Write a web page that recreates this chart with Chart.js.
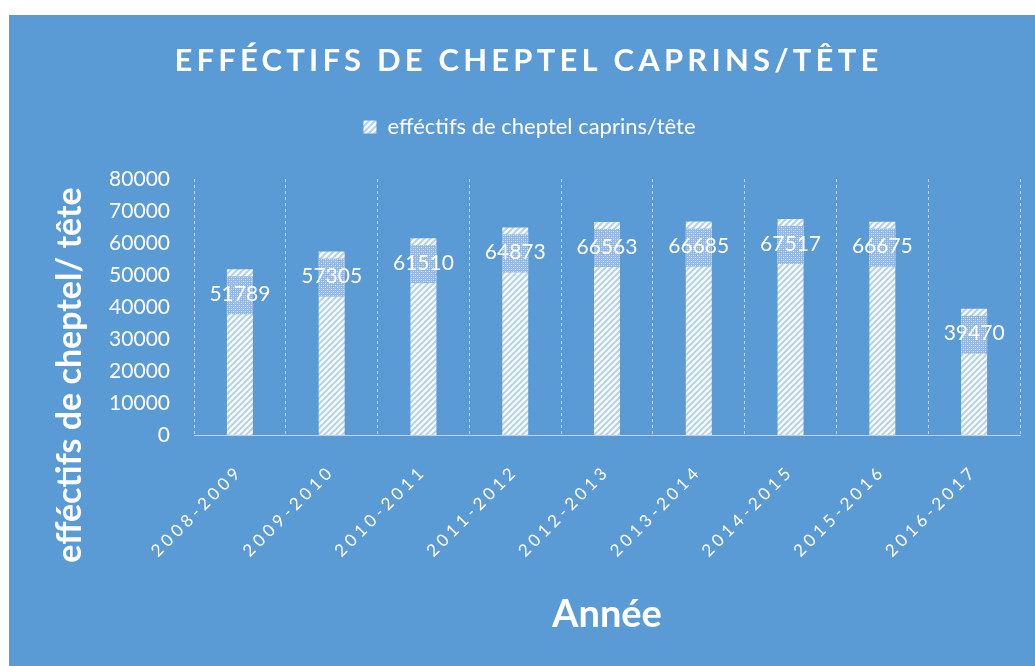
<!DOCTYPE html>
<html>
<head>
<meta charset="utf-8">
<title>Effectifs de cheptel caprins</title>
<script src="https://cdn.jsdelivr.net/npm/chart.js@4"></script>
<style>
    html, body { margin: 0; padding: 0; background: #fff; }
    #wrap { position: absolute; left: 9px; top: 15px; width: 1026px; height: 651px; background: #5b9bd5; }
</style>
</head>
<body>
<div id="wrap"><canvas id="caprins" width="1026" height="651"></canvas></div>
<script>
// --- Data ---
const years = ['2008-2009', '2009-2010', '2010-2011', '2011-2012', '2012-2013',
               '2013-2014', '2014-2015', '2015-2016', '2016-2017'];
const heads = [51789, 57305, 61510, 64873, 66563, 66685, 67517, 66675, 39470];
const yMin = 0, yMax = 80000, yStep = 10000;

const chartTitle = 'EFFÉCTIFS DE CHEPTEL CAPRINS/TÊTE';
const seriesName = 'efféctifs de cheptel caprins/tête';
const yTitle = 'efféctifs de cheptel/ tête';
const xTitle = 'Année';

const FONT = 'Lato';

// --- Fill patterns ---
function stripePattern() {
    const c = document.createElement('canvas');
    c.width = c.height = 6;
    const g = c.getContext('2d');
    g.fillStyle = '#b3cfee';
    g.fillRect(0, 0, 6, 6);
    g.strokeStyle = '#f7fafd';
    g.lineWidth = 2.3;
    g.beginPath();
    g.moveTo(-1, 7); g.lineTo(7, -1);
    g.moveTo(-4, 4); g.lineTo(4, -4);
    g.moveTo(2, 10); g.lineTo(10, 2);
    g.stroke();
    return g.createPattern(c, 'repeat');
}

function dotPattern() {
    const c = document.createElement('canvas');
    c.width = c.height = 4;
    const g = c.getContext('2d');
    g.fillStyle = '#94b8e2';
    g.fillRect(0, 0, 4, 4);
    g.fillStyle = 'rgba(235,243,251,0.8)';
    g.fillRect(0, 0, 1, 1);
    g.fillRect(2, 2, 1, 1);
    g.fillStyle = 'rgba(200,220,242,0.6)';
    g.fillRect(2, 0, 1, 1);
    g.fillRect(0, 2, 1, 1);
    return g.createPattern(c, 'repeat');
}

const stripes = stripePattern();
const dots = dotPattern();

// --- Plugins ---
// legend block gets a fixed height so the plot starts where the original does
const legendGap = {
    id: 'legendGap',
    beforeLayout(chart) {
        const l = chart.legend;
        if (l && !l._fixed) {
            const origFit = l.fit;
            l.fit = function () {
                origFit.call(this);
                this.height = 103;
            };
            const origDraw = l.draw;
            l.draw = function () {
                this.ctx.save();
                this.ctx.translate(7, 0);
                origDraw.call(this);
                this.ctx.restore();
            };
            l._fixed = true;
        }
    }
};

// letter spacing for the title and the x labels (canvas letterSpacing)
const spacing = {
    id: 'spacing',
    afterLayout(chart) {
        const x = chart.scales.x;
        if (x && !x._spaced) {
            const orig = x.drawLabels;
            x.drawLabels = function (area) {
                this.ctx.save();
                this.ctx.letterSpacing = '4px';
                orig.call(this, area);
                this.ctx.restore();
            };
            x._spaced = true;
        }
        const t = chart.titleBlock;
        if (t && !t._spaced) {
            const origT = t.draw;
            t.draw = function () {
                this.ctx.save();
                this.ctx.letterSpacing = '4.2px';
                this.ctx.translate(6, 0);
                origT.call(this);
                this.ctx.restore();
            };
            t._spaced = true;
        }
    }
};

// value labels inside the bars
const barLabels = {
    id: 'barLabels',
    afterDatasetsDraw(chart) {
        const ctx = chart.ctx;
        const meta = chart.getDatasetMeta(0);
        ctx.save();
        meta.data.forEach((bar, i) => {
            const w = bar.width;
            ctx.fillStyle = dots;
            ctx.fillRect(bar.x - w / 2, bar.y + 7, w, 38);
            ctx.fillStyle = '#fff';
            ctx.font = '21px ' + FONT;
            ctx.textAlign = 'center';
            ctx.textBaseline = 'middle';
            ctx.fillText(String(heads[i]), bar.x, bar.y + 25);
        });
        ctx.restore();
    }
};

// y axis title, sitting lower than the plot centre like the original
const yAxisTitle = {
    id: 'yAxisTitle',
    afterDraw(chart) {
        const ctx = chart.ctx;
        ctx.save();
        ctx.translate(61, 360);
        ctx.rotate(-Math.PI / 2);
        ctx.font = 'bold 34px ' + FONT;
        ctx.fillStyle = '#fff';
        ctx.textAlign = 'center';
        ctx.textBaseline = 'middle';
        ctx.fillText(yTitle, 0, 0);
        ctx.restore();
    }
};

// --- Chart ---
new Chart(document.getElementById('caprins'), {
    type: 'bar',
    data: {
        labels: years,
        datasets: [{
            label: seriesName,
            data: heads,
            backgroundColor: stripes,
            borderWidth: 0,
            categoryPercentage: 1,
            barPercentage: 0.283
        }]
    },
    options: {
        responsive: false,
        animation: false,
        layout: { padding: { left: 16, right: 15, top: 0, bottom: 0 } },
        plugins: {
            title: {
                display: true,
                text: chartTitle,
                color: '#fff',
                font: { family: FONT, size: 31, weight: 'bold', lineHeight: 1 },
                padding: { top: 30, bottom: 0 }
            },
            legend: {
                position: 'top',
                labels: {
                    color: '#fff',
                    font: { family: FONT, size: 22 },
                    boxWidth: 13,
                    boxHeight: 13,
                    padding: 40
                }
            },
            tooltip: { enabled: false }
        },
        scales: {
            x: {
                grid: { offset: true, color: 'rgba(222,233,246,0.75)', lineWidth: 1, drawTicks: false },
                border: { color: '#bcd3ed', width: 1, dash: [3, 3] },
                ticks: {
                    color: '#fff',
                    font: { family: FONT, size: 17 },
                    minRotation: 45,
                    maxRotation: 45,
                    autoSkip: false,
                    padding: 26
                },
                title: {
                    display: true,
                    text: xTitle,
                    color: '#fff',
                    font: { family: FONT, size: 38, weight: 'bold' },
                    padding: { top: 0, bottom: 28 }
                },
                afterFit(s) { s.height = 231; }
            },
            y: {
                min: yMin,
                max: yMax,
                grid: { display: false },
                border: { display: false },
                ticks: {
                    stepSize: yStep,
                    color: '#fff',
                    font: { family: FONT, size: 21 },
                    padding: 16,
                    callback: v => String(v)
                },
                afterFit(s) { s.width = 169; }
            }
        }
    },
    plugins: [legendGap, spacing, barLabels, yAxisTitle]
});
</script>
</body>
</html>
